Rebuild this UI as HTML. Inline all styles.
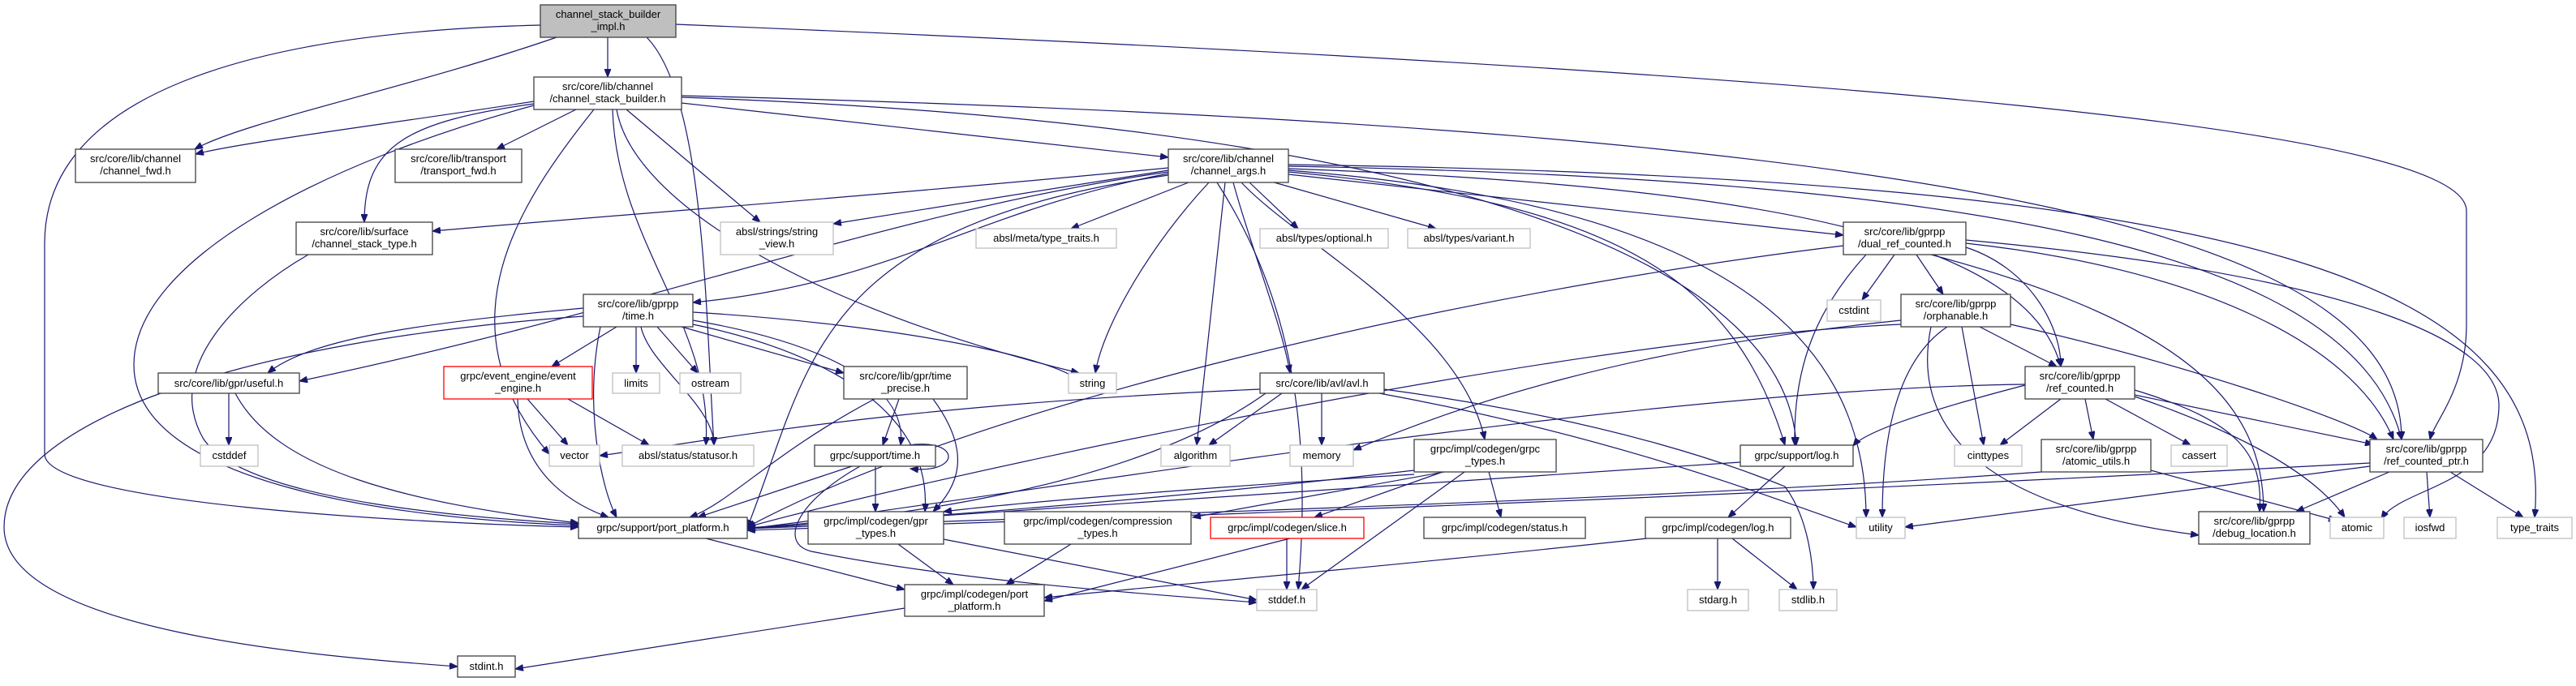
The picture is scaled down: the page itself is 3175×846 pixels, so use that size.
<!DOCTYPE html>
<html><head><meta charset="utf-8"><style>
html,body{margin:0;padding:0;background:#fff;}
svg text{font-family:"Liberation Sans",sans-serif;font-size:13px;fill:#000;}
</style></head><body>
<svg width="3175" height="841" viewBox="0 0 3175 841" xmlns="http://www.w3.org/2000/svg">
<defs>
<marker id="a" markerUnits="userSpaceOnUse" markerWidth="11" markerHeight="8" refX="10" refY="4" orient="auto">
<path d="M0,0 L10,4 L0,8 z" fill="#191970" stroke="#191970"/>
</marker>
</defs>
<g fill="none" stroke="#191970" stroke-width="1.2" marker-end="url(#a)">
<path d="M749,46 L749,95"/>
<path d="M686,46 C500,110 300,150 240,184"/>
<path d="M666,31 C300,40 55,120 55,300 L55,560 C55,620 500,645 713,650"/>
<path d="M797,46 C870,120 870,400 880,549"/>
<path d="M833,30 C2300,90 3040,160 3040,260 L3040,400 C3040,480 3000,520 2995,542"/>
<path d="M658,125 C500,150 300,175 241,190"/>
<path d="M710,135 L612,184"/>
<path d="M658,128 C500,150 449,180 449,274"/>
<path d="M840,127 L1440,194"/>
<path d="M772,135 L937,274"/>
<path d="M658,130 C400,200 165,320 165,450 C165,600 500,640 713,648"/>
<path d="M732,135 C640,250 540,400 677,560"/>
<path d="M760,135 C780,250 1000,380 1330,460"/>
<path d="M755,135 C760,300 880,400 870,549"/>
<path d="M840,120 C1700,150 2200,300 2214,549"/>
<path d="M840,118 C2500,160 2960,300 2960,542"/>
<path d="M1440,207 C1100,240 700,270 533,285"/>
<path d="M1440,210 L1027,276"/>
<path d="M1465,225 L1320,282"/>
<path d="M1540,225 L1600,282"/>
<path d="M1560,222 L1770,282"/>
<path d="M1490,225 C1420,300 1360,400 1350,460"/>
<path d="M1510,225 L1475,549"/>
<path d="M1520,225 C1540,300 1580,400 1590,460"/>
<path d="M1440,214 C1200,260 1100,350 854,373"/>
<path d="M1440,212 C1100,260 800,380 369,470"/>
<path d="M1440,216 C1000,280 1000,450 921,651"/>
<path d="M1530,225 C1600,300 1800,400 1830,542"/>
<path d="M1500,225 C1580,350 1620,500 1600,727"/>
<path d="M1588,210 C2100,250 2300,400 2300,638"/>
<path d="M1588,215 L2272,290"/>
<path d="M1588,208 C2200,230 2500,300 2540,452"/>
<path d="M1588,205 C2400,220 2900,300 2960,542"/>
<path d="M1588,203 C2800,220 3150,350 3124,638"/>
<path d="M1588,212 C2000,250 2140,350 2200,549"/>
<path d="M719,380 C500,400 380,420 330,460"/>
<path d="M760,403 L680,452"/>
<path d="M784,403 L784,460"/>
<path d="M810,403 L860,460"/>
<path d="M840,403 L1040,460"/>
<path d="M854,395 C1000,420 1120,470 1110,549"/>
<path d="M790,403 C800,450 880,500 880,549"/>
<path d="M740,403 C720,500 740,600 760,638"/>
<path d="M854,400 C1000,430 1150,500 1140,631"/>
<path d="M854,385 C1100,400 1300,440 1330,470"/>
<path d="M719,390 C300,420 5,520 5,650 C5,780 400,810 564,822"/>
<path d="M650,492 L700,549"/>
<path d="M700,492 L800,549"/>
<path d="M638,492 C640,580 700,620 750,638"/>
<path d="M282,485 L282,549"/>
<path d="M290,485 C340,580 500,620 713,645"/>
<path d="M380,314 C300,360 200,450 250,540 C300,620 600,640 713,646"/>
<path d="M1108,492 L1088,549"/>
<path d="M1078,492 C950,560 900,620 850,638"/>
<path d="M1150,492 C1200,560 1180,600 1150,631"/>
<path d="M1120,549 C1185,540 1185,585 1122,578"/>
<path d="M1050,575 L860,638"/>
<path d="M1079,575 L1079,631"/>
<path d="M1060,575 C980,620 960,670 1000,680 C1200,720 1450,735 1549,743"/>
<path d="M1553,480 C1100,500 900,540 739,562"/>
<path d="M1580,485 L1490,549"/>
<path d="M1629,485 L1629,549"/>
<path d="M1560,485 C1400,600 1100,640 921,651"/>
<path d="M1700,485 C2000,540 2200,620 2288,650"/>
<path d="M1706,480 C2000,520 2150,580 2200,600 C2230,640 2235,700 2235,727"/>
<path d="M1743,580 C1400,620 1100,640 921,652"/>
<path d="M1743,585 C1500,600 1250,620 1163,631"/>
<path d="M1780,582 L1470,638"/>
<path d="M1778,582 L1620,638"/>
<path d="M1835,582 L1850,638"/>
<path d="M1805,582 L1604,727"/>
<path d="M1590,664 L1287,741"/>
<path d="M1586,664 L1586,727"/>
<path d="M1320,671 L1240,721"/>
<path d="M1107,671 L1175,721"/>
<path d="M1163,665 L1549,740"/>
<path d="M870,664 L1115,727"/>
<path d="M1115,750 L635,825"/>
<path d="M2145,570 C1700,600 1300,630 921,652"/>
<path d="M2200,575 L2130,638"/>
<path d="M2030,664 C1700,700 1400,725 1287,737"/>
<path d="M2117,664 L2117,727"/>
<path d="M2135,664 L2215,727"/>
<path d="M2272,303 C1800,360 1200,500 921,650"/>
<path d="M2335,314 L2295,370"/>
<path d="M2362,314 L2395,363"/>
<path d="M2300,314 C2240,380 2210,450 2212,549"/>
<path d="M2380,314 C2700,400 2790,500 2790,631"/>
<path d="M2423,300 C2700,330 2900,420 2950,542"/>
<path d="M2423,305 C2500,330 2540,400 2540,452"/>
<path d="M2423,296 C2900,340 3080,420 3080,500 C3080,600 2960,600 2935,640"/>
<path d="M2343,395 C2000,430 1800,500 1668,555"/>
<path d="M2440,403 L2535,452"/>
<path d="M2478,400 C2700,450 2900,520 2930,542"/>
<path d="M2343,400 C1900,420 1100,600 921,650"/>
<path d="M2418,403 L2445,549"/>
<path d="M2400,403 C2330,450 2320,560 2320,638"/>
<path d="M2380,403 C2360,500 2400,620 2710,660"/>
<path d="M2496,475 C2400,500 2300,530 2284,550"/>
<path d="M2540,492 L2465,549"/>
<path d="M2570,492 L2580,542"/>
<path d="M2595,492 L2700,549"/>
<path d="M2631,487 L2925,548"/>
<path d="M2631,481 C2760,520 2790,560 2785,631"/>
<path d="M2631,489 C2750,530 2850,580 2890,638"/>
<path d="M2496,474 C2000,480 1200,620 921,652"/>
<path d="M2651,580 L2880,642"/>
<path d="M2516,582 C2000,620 1200,640 921,652"/>
<path d="M2921,571 C2000,620 1200,645 921,654"/>
<path d="M2921,575 L2348,650"/>
<path d="M2945,582 L2830,631"/>
<path d="M2991,582 L2995,638"/>
<path d="M3020,582 L3110,638"/>
</g>
<g stroke-width="1.3">
<rect x="666" y="6" width="167" height="40" fill="#bfbfbf" stroke="#404040"/>
<g fill="#fff" stroke="#404040">
<rect x="658" y="95" width="182" height="40"/>
<rect x="93" y="184" width="148" height="41"/>
<rect x="487" y="184" width="156" height="41"/>
<rect x="365" y="274" width="168" height="40"/>
<rect x="1440" y="184" width="148" height="41"/>
<rect x="2272" y="274" width="151" height="40"/>
<rect x="2343" y="363" width="135" height="40"/>
<rect x="719" y="363" width="135" height="40"/>
<rect x="195" y="460" width="174" height="25"/>
<rect x="1040" y="452" width="152" height="40"/>
<rect x="1553" y="460" width="153" height="25"/>
<rect x="1004" y="549" width="149" height="26"/>
<rect x="1743" y="542" width="175" height="40"/>
<rect x="2145" y="549" width="139" height="26"/>
<rect x="2496" y="452" width="135" height="40"/>
<rect x="2516" y="542" width="135" height="40"/>
<rect x="2921" y="542" width="139" height="40"/>
<rect x="713" y="638" width="208" height="26"/>
<rect x="996" y="631" width="167" height="40"/>
<rect x="1238" y="631" width="230" height="40"/>
<rect x="1755" y="638" width="199" height="26"/>
<rect x="2028" y="638" width="179" height="26"/>
<rect x="2710" y="631" width="137" height="40"/>
<rect x="1115" y="721" width="172" height="39"/>
<rect x="564" y="809" width="71" height="26"/>
</g>
<g fill="#fff" stroke="#ff0000">
<rect x="547" y="452" width="183" height="40"/>
<rect x="1492" y="638" width="189" height="26"/>
</g>
<g fill="#fff" stroke="#bfbfbf">
<rect x="888" y="274" width="139" height="40"/>
<rect x="1203" y="282" width="173" height="24"/>
<rect x="1553" y="282" width="158" height="24"/>
<rect x="1735" y="282" width="151" height="24"/>
<rect x="2252" y="370" width="66" height="26"/>
<rect x="247" y="549" width="71" height="26"/>
<rect x="755" y="460" width="58" height="25"/>
<rect x="838" y="460" width="75" height="25"/>
<rect x="1317" y="460" width="59" height="25"/>
<rect x="677" y="549" width="62" height="26"/>
<rect x="767" y="549" width="162" height="26"/>
<rect x="1431" y="549" width="85" height="26"/>
<rect x="1590" y="549" width="78" height="26"/>
<rect x="2409" y="549" width="83" height="26"/>
<rect x="2676" y="549" width="69" height="26"/>
<rect x="2288" y="638" width="60" height="26"/>
<rect x="2872" y="638" width="66" height="26"/>
<rect x="2963" y="638" width="64" height="26"/>
<rect x="3078" y="638" width="92" height="26"/>
<rect x="1549" y="727" width="74" height="26"/>
<rect x="2080" y="727" width="75" height="26"/>
<rect x="2193" y="727" width="71" height="26"/>
</g>
</g>
<g text-anchor="middle">
<text x="749.5" y="22">channel_stack_builder</text><text x="749.5" y="37">_impl.h</text>
<text x="749" y="111">src/core/lib/channel</text><text x="749" y="126">/channel_stack_builder.h</text>
<text x="167" y="200">src/core/lib/channel</text><text x="167" y="215">/channel_fwd.h</text>
<text x="565" y="200">src/core/lib/transport</text><text x="565" y="215">/transport_fwd.h</text>
<text x="449" y="290">src/core/lib/surface</text><text x="449" y="305">/channel_stack_type.h</text>
<text x="1514" y="200">src/core/lib/channel</text><text x="1514" y="215">/channel_args.h</text>
<text x="2347.5" y="290">src/core/lib/gprpp</text><text x="2347.5" y="305">/dual_ref_counted.h</text>
<text x="2410.5" y="379">src/core/lib/gprpp</text><text x="2410.5" y="394">/orphanable.h</text>
<text x="786.5" y="379">src/core/lib/gprpp</text><text x="786.5" y="394">/time.h</text>
<text x="282" y="477">src/core/lib/gpr/useful.h</text>
<text x="1116" y="468">src/core/lib/gpr/time</text><text x="1116" y="483">_precise.h</text>
<text x="1629.5" y="477">src/core/lib/avl/avl.h</text>
<text x="1078.5" y="566">grpc/support/time.h</text>
<text x="1830.5" y="558">grpc/impl/codegen/grpc</text><text x="1830.5" y="573">_types.h</text>
<text x="2214.5" y="566">grpc/support/log.h</text>
<text x="2563.5" y="468">src/core/lib/gprpp</text><text x="2563.5" y="483">/ref_counted.h</text>
<text x="2583.5" y="558">src/core/lib/gprpp</text><text x="2583.5" y="573">/atomic_utils.h</text>
<text x="2990.5" y="558">src/core/lib/gprpp</text><text x="2990.5" y="573">/ref_counted_ptr.h</text>
<text x="817" y="655">grpc/support/port_platform.h</text>
<text x="1079.5" y="647">grpc/impl/codegen/gpr</text><text x="1079.5" y="662">_types.h</text>
<text x="1353" y="647">grpc/impl/codegen/compression</text><text x="1353" y="662">_types.h</text>
<text x="1854.5" y="655">grpc/impl/codegen/status.h</text>
<text x="2117.5" y="655">grpc/impl/codegen/log.h</text>
<text x="2778.5" y="647">src/core/lib/gprpp</text><text x="2778.5" y="662">/debug_location.h</text>
<text x="1201" y="737">grpc/impl/codegen/port</text><text x="1201" y="752">_platform.h</text>
<text x="599.5" y="826">stdint.h</text>
<text x="638.5" y="468">grpc/event_engine/event</text><text x="638.5" y="483">_engine.h</text>
<text x="1586.5" y="655">grpc/impl/codegen/slice.h</text>
<text x="957.5" y="290">absl/strings/string</text><text x="957.5" y="305">_view.h</text>
<text x="1289.5" y="298">absl/meta/type_traits.h</text>
<text x="1632" y="298">absl/types/optional.h</text>
<text x="1810.5" y="298">absl/types/variant.h</text>
<text x="2285" y="387">cstdint</text>
<text x="282.5" y="566">cstddef</text>
<text x="784" y="477">limits</text>
<text x="875.5" y="477">ostream</text>
<text x="1346.5" y="477">string</text>
<text x="708" y="566">vector</text>
<text x="848" y="566">absl/status/statusor.h</text>
<text x="1473.5" y="566">algorithm</text>
<text x="1629" y="566">memory</text>
<text x="2450.5" y="566">cinttypes</text>
<text x="2710.5" y="566">cassert</text>
<text x="2318" y="655">utility</text>
<text x="2905" y="655">atomic</text>
<text x="2995" y="655">iosfwd</text>
<text x="3124" y="655">type_traits</text>
<text x="1586" y="744">stddef.h</text>
<text x="2117.5" y="744">stdarg.h</text>
<text x="2228.5" y="744">stdlib.h</text>
</g>
</svg>
</body></html>
